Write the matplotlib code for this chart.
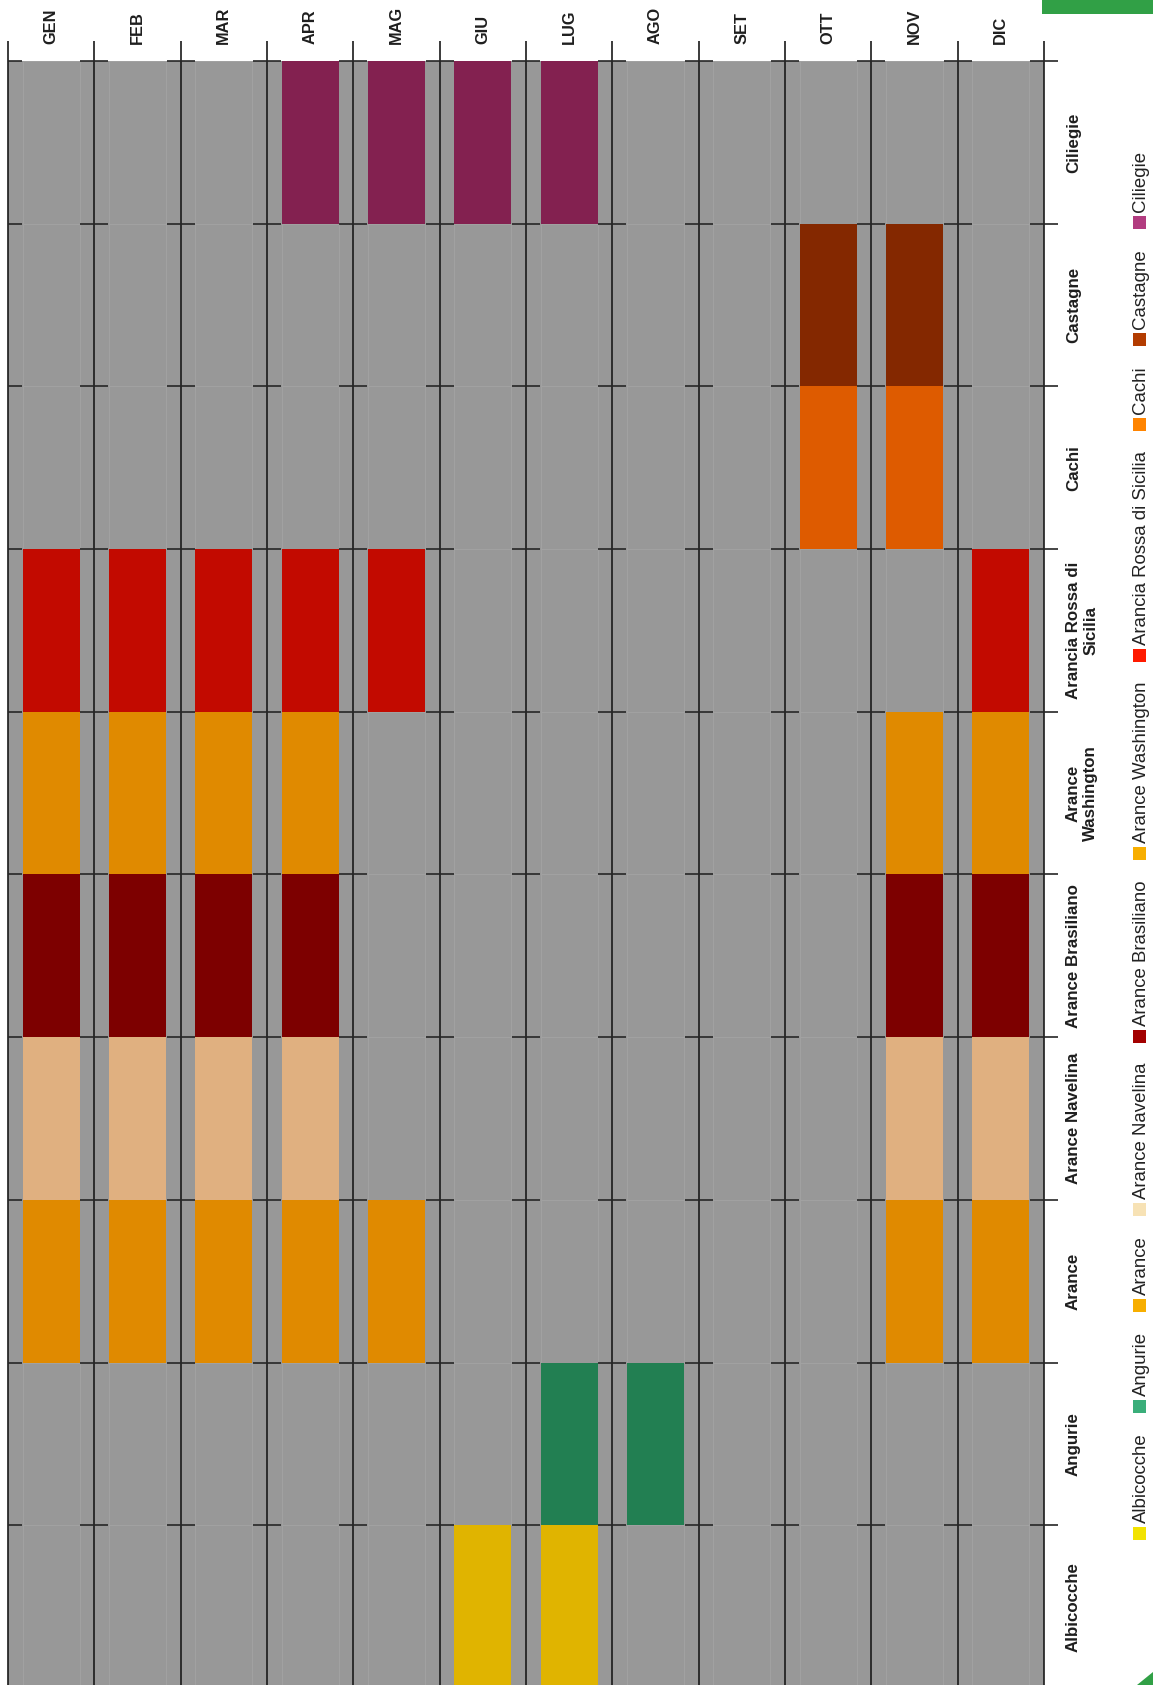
import matplotlib
matplotlib.use("Agg")
import matplotlib.pyplot as plt
from matplotlib.patches import Rectangle, Polygon

plt.rcParams["font.family"] = ["Liberation Sans", "DejaVu Sans"]

months = ["GEN", "FEB", "MAR", "APR", "MAG", "GIU",
          "LUG", "AGO", "SET", "OTT", "NOV", "DIC"]

# rows from top to bottom
fruits = ["Ciliegie", "Castagne", "Cachi", "Arancia Rossa di Sicilia",
          "Arance Washington", "Arance Brasiliano", "Arance Navelina",
          "Arance", "Angurie", "Albicocche"]
fruit_labels = ["Ciliegie", "Castagne", "Cachi", "Arancia Rossa di\nSicilia",
                "Arance\nWashington", "Arance Brasiliano", "Arance Navelina",
                "Arance", "Angurie", "Albicocche"]

season = {
    "Ciliegie": ["APR", "MAG", "GIU", "LUG"],
    "Castagne": ["OTT", "NOV"],
    "Cachi": ["OTT", "NOV"],
    "Arancia Rossa di Sicilia": ["GEN", "FEB", "MAR", "APR", "MAG", "DIC"],
    "Arance Washington": ["GEN", "FEB", "MAR", "APR", "NOV", "DIC"],
    "Arance Brasiliano": ["GEN", "FEB", "MAR", "APR", "NOV", "DIC"],
    "Arance Navelina": ["GEN", "FEB", "MAR", "APR", "NOV", "DIC"],
    "Arance": ["GEN", "FEB", "MAR", "APR", "MAG", "NOV", "DIC"],
    "Angurie": ["LUG", "AGO"],
    "Albicocche": ["GIU", "LUG"],
}

cell_colors = ["#832150", "#842800", "#de5b00", "#c20a00", "#e08a00",
               "#7d0000", "#e0b080", "#e08a00", "#227f52", "#e0b400"]
legend_colors = ["#b23c80", "#b33c00", "#ff8400", "#ff1a00", "#f7ae00",
                 "#a30000", "#f7e2b5", "#f7ae00", "#3aae7a", "#f2e200"]

W, H = 1153, 1685
fig = plt.figure(figsize=(W / 100, H / 100), dpi=100)

# axes in pixel terms: left 8, right 1044, top 61, bottom ~1688 (past the edge)
left, right, top, bottom = 8, 1044, 61, 1688
ax = fig.add_axes([left / W, 1 - bottom / H, (right - left) / W, (bottom - top) / H])
ax.set_facecolor("#989898")
ax.set_xlim(0, len(months))
ax.set_ylim(len(fruits), 0)
for s in ax.spines.values():
    s.set_visible(False)
ax.set_xticks([])
ax.set_yticks([])

bw = 0.66
for r, f in enumerate(fruits):
    for c, m in enumerate(months):
        if m in season[f]:
            ax.bar(c + 0.5, 1, bottom=r, width=bw, color=cell_colors[r],
                   edgecolor="none", zorder=2)
        else:
            ax.bar(c + 0.5, 1, bottom=r, width=bw, color="#989898",
                   edgecolor="#a3a3a3", linewidth=0.6, zorder=1)

# month separators, running a bit above the plot
ext = 20 / (bottom - top)
ax.vlines(range(len(months) + 1), 0, 1 + ext, transform=ax.get_xaxis_transform(),
          colors="#1a1a1a", linewidth=1.2, clip_on=False, zorder=4)

# short crossing ticks at row boundaries
tl = 14 / ((right - left) / len(months))
for c in range(len(months) + 1):
    x0 = c if c == 0 else c - tl
    ax.hlines(range(len(fruits) + 1), x0, c + tl, colors="#262626",
              linewidth=1.2, clip_on=False, zorder=4)

for c, m in enumerate(months):
    ax.text(c + 0.5, 1 + 17 / (bottom - top), m, transform=ax.get_xaxis_transform(),
            rotation=90, ha="center", va="bottom", fontsize=11.8,
            fontweight="bold", color="#1e1e1e")

for r, lab in enumerate(fruit_labels):
    ax.text(1 + 22 / (right - left), r + 0.5, lab, transform=ax.get_yaxis_transform(),
            rotation=90, ha="left", va="center", multialignment="center",
            fontsize=12.2, fontweight="bold", color="#1e1e1e", linespacing=1.2)

# rotated legend, drawn bottom to top
renderer = fig.canvas.get_renderer()
leg_fs = 13.4
msize, gap_in, gap_out = 13, 4, 20
order = list(range(len(fruits)))[::-1]
texts, lengths = [], []
for r in order:
    t = fig.text(1140 / W, 0.5, fruits[r], rotation=90, ha="center", va="bottom",
                 fontsize=leg_fs, color="#222222")
    texts.append(t)
    lengths.append(t.get_window_extent(renderer).height)
total = len(order) * (msize + gap_in) + sum(lengths) + (len(order) - 1) * gap_out
y = 845.5 + total / 2  # pixel from top, legend bottom
for r, t, L in zip(order, texts, lengths):
    fig.add_artist(Rectangle(((1139 - msize / 2) / W, 1 - y / H), msize / W, msize / H,
                             transform=fig.transFigure, facecolor=legend_colors[r],
                             edgecolor="none"))
    y -= msize + gap_in
    t.set_position((1141 / W, 1 - y / H))
    y -= L + gap_out

# green corner decorations
fig.add_artist(Rectangle((1042 / W, 1 - 14 / H), (W - 1042) / W, 14 / H,
                         transform=fig.transFigure, facecolor="#31a046", edgecolor="none"))
fig.add_artist(Polygon([(1137 / W, 0), (1, 0), (1, 13 / H)], closed=True,
                       transform=fig.transFigure, facecolor="#31a046", edgecolor="none"))

fig.savefig("out.png", dpi=100)
